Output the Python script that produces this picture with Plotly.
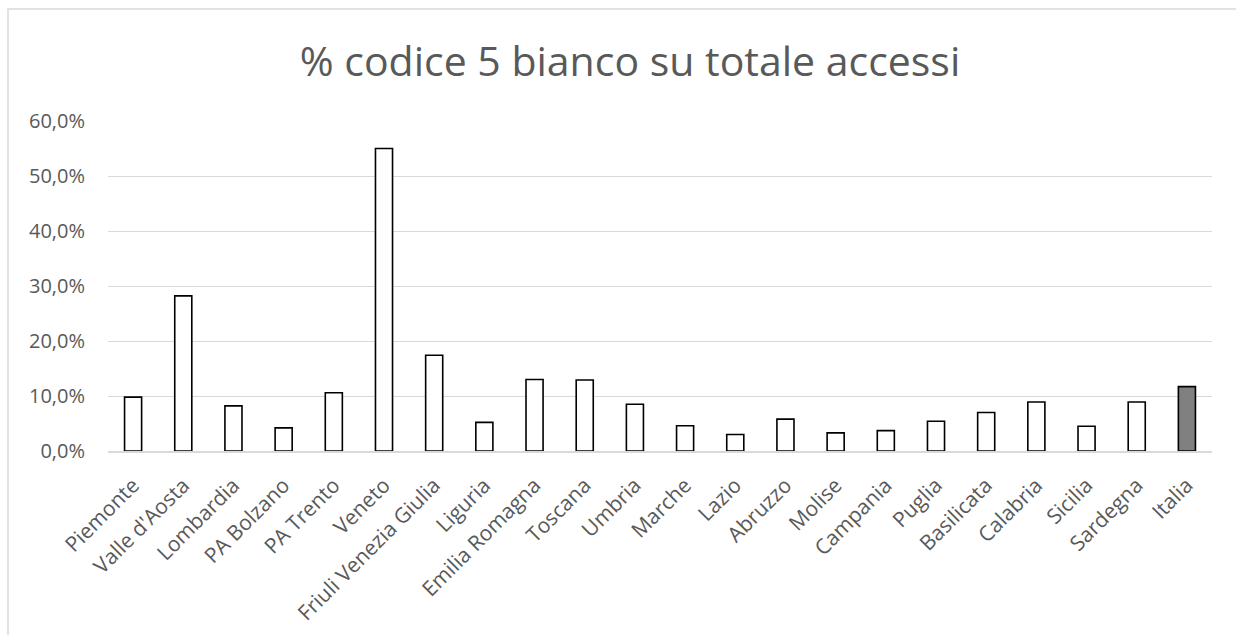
import plotly.graph_objects as go

# Regional share of "codice 5 bianco" triage codes over total ED accesses (%)
regioni = [
    "Piemonte", "Valle d'Aosta", "Lombardia", "PA Bolzano", "PA Trento",
    "Veneto", "Friuli Venezia Giulia", "Liguria", "Emilia Romagna", "Toscana",
    "Umbria", "Marche", "Lazio", "Abruzzo", "Molise", "Campania", "Puglia",
    "Basilicata", "Calabria", "Sicilia", "Sardegna", "Italia",
]
percentuali = [
    9.8, 28.2, 8.2, 4.2, 10.6,
    55.0, 17.4, 5.2, 13.0, 12.9,
    8.5, 4.6, 3.0, 5.8, 3.3, 3.7, 5.4,
    7.0, 8.9, 4.5, 8.9, 11.7,
]
y_ticks = [0, 10, 20, 30, 40, 50, 60]
y_tick_labels = [f"{v:.1f}%".replace(".", ",") for v in y_ticks]

W, H = 1236, 635
L, R, T, B = 108, 24, 121, 184
pw, ph = W - L - R, H - T - B

colori = ["#808080" if r == "Italia" else "#ffffff" for r in regioni]

fig = go.Figure(
    go.Bar(
        x=regioni,
        y=percentuali,
        marker=dict(color=colori, line=dict(color="#000000", width=1.6)),
        hoverinfo="x+y",
    )
)

text_color = "#595959"
font_family = "Open Sans"

fig.update_layout(
    width=W,
    height=H,
    margin=dict(l=L, r=R, t=T, b=B),
    paper_bgcolor="#ffffff",
    plot_bgcolor="#ffffff",
    separators=",.",
    bargap=0.66,
    showlegend=False,
    title=dict(
        text="% codice 5 bianco su totale accessi",
        x=(630 - L) / pw,
        xref="paper",
        xanchor="center",
        y=1 - 62 / H,
        yanchor="middle",
        font=dict(family=font_family, size=41, color=text_color),
    ),
    xaxis=dict(
        type="category",
        tickangle=-45,
        tickfont=dict(family=font_family, size=21, color=text_color),
        showgrid=False,
        showline=True,
        linecolor="#d9d9d9",
        linewidth=1.5,
        ticks="",
        ticklabelstandoff=12,
        automargin=False,
    ),
    yaxis=dict(
        range=[0, 60],
        tickvals=y_ticks,
        ticktext=y_tick_labels,
        tickfont=dict(family=font_family, size=20, color=text_color),
        showgrid=True,
        gridcolor="#d9d9d9",
        gridwidth=1.2,
        zeroline=False,
        showline=False,
        ticks="",
        ticklabelstandoff=22,
        automargin=False,
    ),
    shapes=[
        dict(
            type="rect",
            xref="paper",
            yref="paper",
            x0=(8 - L) / pw,
            x1=(W + 10 - L) / pw,
            y0=-(H + 10 - (H - B)) / ph,
            y1=((H - B) - 9) / ph,
            line=dict(color="#d9d9d9", width=1.5),
            fillcolor="rgba(0,0,0,0)",
            layer="below",
        )
    ],
)

fig.write_html("out.html")
